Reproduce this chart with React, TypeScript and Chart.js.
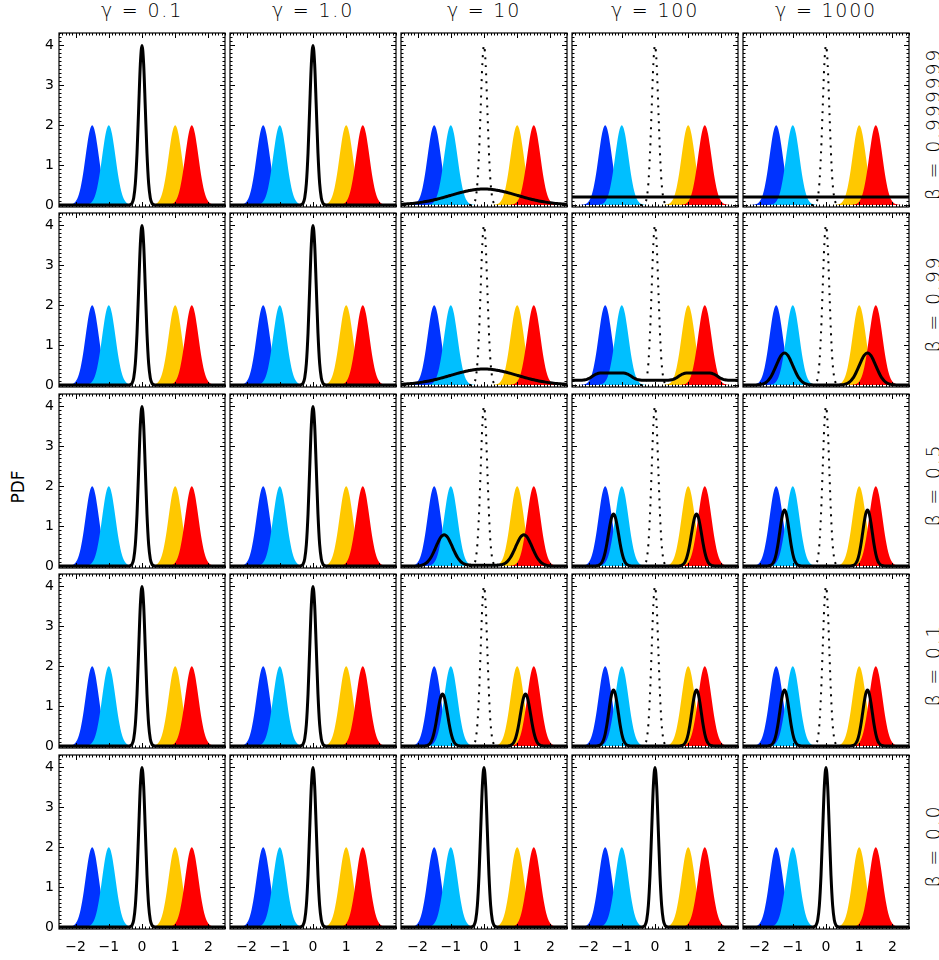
import React, { useEffect, useRef } from 'react';
import { Chart, registerables } from 'chart.js';

Chart.register(...registerables);

// ---------------- data ----------------
const GAMMA_LABELS = ['γ = 0.1', 'γ = 1.0', 'γ = 10', 'γ = 100', 'γ = 1000'];
const BETA_LABELS = ['β = 0.999999', 'β = 0.99', 'β = 0.5', 'β = 0.1', 'β = 0.0'];
const X_TICKS = [-2, -1, 0, 1, 2];
const Y_TICKS = [0, 1, 2, 3, 4];

// sample grid (x values of the PDF samples)
const XS = [
  -2.5, -2.45, -2.4, -2.35, -2.3, -2.25, -2.2, -2.15, -2.1, -2.05,
  -2, -1.95, -1.9, -1.85, -1.8, -1.75, -1.7, -1.65, -1.6, -1.55,
  -1.5, -1.45, -1.4, -1.35, -1.3, -1.25, -1.2, -1.15, -1.1, -1.05,
  -1, -0.95, -0.9, -0.85, -0.8, -0.75, -0.7, -0.65, -0.6, -0.55,
  -0.5, -0.45, -0.4, -0.35, -0.3, -0.25, -0.2, -0.15, -0.1, -0.05,
  0,
  0.05, 0.1, 0.15, 0.2, 0.25, 0.3, 0.35, 0.4, 0.45, 0.5,
  0.55, 0.6, 0.65, 0.7, 0.75, 0.8, 0.85, 0.9, 0.95, 1,
  1.05, 1.1, 1.15, 1.2, 1.25, 1.3, 1.35, 1.4, 1.45, 1.5,
  1.55, 1.6, 1.65, 1.7, 1.75, 1.8, 1.85, 1.9, 1.95, 2,
  2.05, 2.1, 2.15, 2.2, 2.25, 2.3, 2.35, 2.4, 2.45, 2.5,
];

// coloured source PDFs (each on its own support, zero elsewhere)
const BLUE_START = -2.2;
const BLUE_PDF = [0.004, 0.010, 0.022, 0.045, 0.088, 0.159, 0.270, 0.432, 0.648, 0.913, 1.210, 1.506, 1.761, 1.933, 1.995, 1.933, 1.761, 1.506, 1.210, 0.913, 0.648, 0.432, 0.270, 0.159, 0.088, 0.045, 0.022, 0.010, 0.004];
const CYAN_START = -1.7;
const CYAN_PDF = [0.004, 0.010, 0.022, 0.045, 0.088, 0.159, 0.270, 0.432, 0.648, 0.913, 1.210, 1.506, 1.761, 1.933, 1.995, 1.933, 1.761, 1.506, 1.210, 0.913, 0.648, 0.432, 0.270, 0.159, 0.088, 0.045, 0.022, 0.010, 0.004];
const YELLOW_START = 0.3;
const YELLOW_PDF = [0.004, 0.010, 0.022, 0.045, 0.088, 0.159, 0.270, 0.432, 0.648, 0.913, 1.210, 1.506, 1.761, 1.933, 1.995, 1.933, 1.761, 1.506, 1.210, 0.913, 0.648, 0.432, 0.270, 0.159, 0.088, 0.045, 0.022, 0.010, 0.004];
const RED_START = 0.8;
const RED_PDF = [0.004, 0.010, 0.022, 0.045, 0.088, 0.159, 0.270, 0.432, 0.648, 0.913, 1.210, 1.506, 1.761, 1.933, 1.995, 1.933, 1.761, 1.506, 1.210, 0.913, 0.648, 0.432, 0.270, 0.159, 0.088, 0.045, 0.022, 0.010, 0.004];

// narrow central PDF (solid / dotted)
const CENTER_START = -0.4;
const CENTER_PDF = [0.001, 0.009, 0.044, 0.175, 0.540, 1.295, 2.420, 3.521, 3.989, 3.521, 2.420, 1.295, 0.540, 0.175, 0.044, 0.009, 0.001];

// broad posterior (full grid)
const BROAD_POST = [
  0.0175, 0.0198, 0.0224, 0.0252, 0.0283, 0.0317, 0.0355, 0.0396, 0.0440, 0.0488,
  0.0540, 0.0596, 0.0656, 0.0721, 0.0790, 0.0863, 0.0940, 0.1023, 0.1109, 0.1200,
  0.1295, 0.1394, 0.1497, 0.1604, 0.1714, 0.1826, 0.1942, 0.2059, 0.2179, 0.2299,
  0.2420, 0.2541, 0.2661, 0.2780, 0.2897, 0.3011, 0.3123, 0.3230, 0.3332, 0.3429,
  0.3521, 0.3605, 0.3683, 0.3752, 0.3814, 0.3867, 0.3910, 0.3945, 0.3970, 0.3984,
  0.3989,
  0.3984, 0.3970, 0.3945, 0.3910, 0.3867, 0.3814, 0.3752, 0.3683, 0.3605, 0.3521,
  0.3429, 0.3332, 0.3230, 0.3123, 0.3011, 0.2897, 0.2780, 0.2661, 0.2541, 0.2420,
  0.2299, 0.2179, 0.2059, 0.1942, 0.1826, 0.1714, 0.1604, 0.1497, 0.1394, 0.1295,
  0.1200, 0.1109, 0.1023, 0.0940, 0.0863, 0.0790, 0.0721, 0.0656, 0.0596, 0.0540,
  0.0488, 0.0440, 0.0396, 0.0355, 0.0317, 0.0283, 0.0252, 0.0224, 0.0198, 0.0175,
];

// flat posterior
const FLAT_X = [-2.5, 2.5];
const FLAT_POST = [0.2, 0.2];

// uniform floor + two low bumps (full grid)
const MIX_POST = [
  0.120, 0.120, 0.120, 0.120, 0.120, 0.120, 0.121, 0.124, 0.130, 0.140,
  0.158, 0.182, 0.210, 0.238, 0.262, 0.280, 0.292, 0.298, 0.300, 0.300,
  0.300, 0.300, 0.300, 0.300, 0.300, 0.300, 0.300, 0.300, 0.300, 0.300,
  0.300, 0.298, 0.292, 0.280, 0.262, 0.238, 0.210, 0.182, 0.158, 0.140,
  0.130, 0.124, 0.121, 0.120, 0.120, 0.120, 0.120, 0.120, 0.120, 0.120,
  0.120,
  0.120, 0.120, 0.120, 0.120, 0.120, 0.120, 0.120, 0.121, 0.124, 0.130,
  0.140, 0.158, 0.182, 0.210, 0.238, 0.262, 0.280, 0.292, 0.298, 0.300,
  0.300, 0.300, 0.300, 0.300, 0.300, 0.300, 0.300, 0.300, 0.300, 0.300,
  0.300, 0.300, 0.298, 0.292, 0.280, 0.262, 0.238, 0.210, 0.182, 0.158,
  0.140, 0.130, 0.124, 0.121, 0.120, 0.120, 0.120, 0.120, 0.120, 0.120,
];

// wide bimodal posterior with a small floor, from x = -2.0 to 2.0
const SKEW_START = -2.0;
const SKEW_POST = [
  0.004, 0.008, 0.015, 0.026, 0.043, 0.068, 0.104, 0.153, 0.215, 0.291,
  0.378, 0.472, 0.565, 0.651, 0.720, 0.764, 0.780, 0.764, 0.720, 0.651,
  0.565, 0.472, 0.380, 0.293, 0.218, 0.157, 0.108, 0.075, 0.052, 0.038,
  0.030, 0.025, 0.022,
  0.020, 0.020, 0.020, 0.020, 0.020, 0.020, 0.020, 0.020, 0.020, 0.020,
  0.020, 0.020, 0.020, 0.020, 0.020,
  0.022, 0.025, 0.030, 0.038, 0.052, 0.075, 0.108, 0.157, 0.218, 0.293,
  0.380, 0.472, 0.565, 0.651, 0.720, 0.764, 0.780, 0.764, 0.720, 0.651,
  0.565, 0.472, 0.378, 0.291, 0.215, 0.153, 0.104, 0.068, 0.043, 0.026,
  0.015, 0.008, 0.004,
];

// bumps of the bimodal posteriors
const BUMP080_STARTS = [-2.15, 0.35];
const BUMP_080 = [0.001, 0.003, 0.005, 0.009, 0.016, 0.027, 0.044, 0.070, 0.107, 0.157, 0.221, 0.299, 0.388, 0.484, 0.580, 0.668, 0.738, 0.784, 0.800, 0.784, 0.738, 0.668, 0.580, 0.484, 0.388, 0.299, 0.221, 0.157, 0.107, 0.070, 0.044, 0.027, 0.016, 0.009, 0.005, 0.003, 0.001];
const BUMP130_STARTS = [-1.8, 0.7];
const BUMP_130 = [0.002, 0.006, 0.018, 0.043, 0.096, 0.192, 0.345, 0.556, 0.806, 1.051, 1.233, 1.300, 1.233, 1.051, 0.806, 0.556, 0.345, 0.192, 0.096, 0.043, 0.018, 0.006, 0.002];
const BUMP140_STARTS = [-1.75, 0.75];
const BUMP_140 = [0.003, 0.010, 0.027, 0.068, 0.152, 0.300, 0.523, 0.804, 1.094, 1.316, 1.400, 1.316, 1.094, 0.804, 0.523, 0.300, 0.152, 0.068, 0.027, 0.010, 0.003];

// which posterior each panel shows [row][col]
const POSTERIOR = [
  ['center', 'center', 'broad', 'flat', 'flat'],
  ['center', 'center', 'broad', 'mix', 'bi080'],
  ['center', 'center', 'skew', 'bi130', 'bi140'],
  ['center', 'center', 'bi130', 'bi140', 'bi140'],
  ['center', 'center', 'center', 'center', 'center'],
];

// ---------------- styling / layout ----------------
const FONT = "'DejaVu Sans', sans-serif";
const BLUE = '#0033ff';
const CYAN = '#00bfff';
const YELLOW = '#ffc800';
const RED = '#ff0000';
const X_MIN = -2.5, X_MAX = 2.5, Y_MIN = -0.05, Y_MAX = 4.3;
const COL_X = [59, 230, 401, 572, 743];
const ROW_Y = [33, 213, 394, 574, 755];
const PANEL_W = 166;
const PANEL_H = 174;
const PAD = 3;
const Y_AXIS_W = 42;
const X_AXIS_H = 30;
const MAJOR_LEN = 5;
const MINOR_LEN = 2.5;

type Pt = { x: number; y: number };

function onGrid(segments: [number, number[]][]): number[] {
  const out = XS.map(() => 0);
  for (const [start, vals] of segments) {
    const i0 = Math.round((start - XS[0]) / 0.05);
    vals.forEach((v, k) => {
      out[i0 + k] = v;
    });
  }
  return out;
}

function toPoints(xs: number[], ys: number[]): Pt[] {
  return xs.map((x, i) => ({ x, y: ys[i] }));
}

const CURVES: Record<string, Pt[]> = {
  blue: toPoints(XS, onGrid([[BLUE_START, BLUE_PDF]])),
  cyan: toPoints(XS, onGrid([[CYAN_START, CYAN_PDF]])),
  yellow: toPoints(XS, onGrid([[YELLOW_START, YELLOW_PDF]])),
  red: toPoints(XS, onGrid([[RED_START, RED_PDF]])),
  center: toPoints(XS, onGrid([[CENTER_START, CENTER_PDF]])),
  broad: toPoints(XS, BROAD_POST),
  flat: toPoints(FLAT_X, FLAT_POST),
  mix: toPoints(XS, MIX_POST),
  skew: toPoints(XS, onGrid([[SKEW_START, SKEW_POST]])),
  bi080: toPoints(XS, onGrid(BUMP080_STARTS.map((s) => [s, BUMP_080] as [number, number[]]))),
  bi130: toPoints(XS, onGrid(BUMP130_STARTS.map((s) => [s, BUMP_130] as [number, number[]]))),
  bi140: toPoints(XS, onGrid(BUMP140_STARTS.map((s) => [s, BUMP_140] as [number, number[]]))),
};
const DOTTED_CENTER = CURVES.center.filter((p) => Math.abs(p.x) <= 0.45);

const frameTicks = {
  id: 'frameTicks',
  afterDatasetsDraw(chart: any) {
    const { ctx, chartArea: a, scales } = chart;
    const xs = scales.x;
    const ys = scales.y;
    ctx.save();
    ctx.strokeStyle = '#000';
    ctx.lineWidth = 1;
    ctx.beginPath();
    for (let i = -25; i <= 25; i++) {
      const px = Math.round(xs.getPixelForValue(i / 10)) + 0.5;
      const len = i % 10 === 0 ? MAJOR_LEN : MINOR_LEN;
      ctx.moveTo(px, a.bottom);
      ctx.lineTo(px, a.bottom - len);
      ctx.moveTo(px, a.top);
      ctx.lineTo(px, a.top + len);
    }
    for (let i = 0; i <= 43; i++) {
      const py = Math.round(ys.getPixelForValue(i / 10)) + 0.5;
      const len = i % 10 === 0 ? MAJOR_LEN : MINOR_LEN;
      ctx.moveTo(a.left, py);
      ctx.lineTo(a.left + len, py);
      ctx.moveTo(a.right, py);
      ctx.lineTo(a.right - len, py);
    }
    ctx.stroke();
    ctx.lineWidth = 1.2;
    ctx.strokeRect(a.left, a.top, a.right - a.left, a.bottom - a.top);
    ctx.restore();
  },
};

function fmt(v: number): string {
  return v < 0 ? '\u2212' + Math.abs(v) : String(v);
}

function fillSet(data: Pt[], color: string, order: number) {
  return {
    data,
    borderWidth: 0,
    borderColor: color,
    backgroundColor: color,
    fill: 'origin',
    pointRadius: 0,
    cubicInterpolationMode: 'monotone',
    order,
  };
}

function Panel({ row, col }: { row: number; col: number }) {
  const ref = useRef<HTMLCanvasElement>(null);
  const axisW = col === 0 ? Y_AXIS_W : 0;
  const axisH = row === 4 ? X_AXIS_H : 0;
  const cw = PANEL_W + 2 * PAD + axisW;
  const ch = PANEL_H + 2 * PAD + axisH;

  useEffect(() => {
    if (!ref.current) return;
    const post = POSTERIOR[row][col];
    const datasets: any[] = [
      fillSet(CURVES.blue, BLUE, 6),
      fillSet(CURVES.cyan, CYAN, 5),
      fillSet(CURVES.yellow, YELLOW, 4),
      fillSet(CURVES.red, RED, 3),
    ];
    if (post !== 'center') {
      datasets.push({
        data: DOTTED_CENTER,
        borderColor: '#000',
        borderWidth: 2,
        borderDash: [2, 6],
        fill: false,
        pointRadius: 0,
        cubicInterpolationMode: 'monotone',
        order: 2,
      });
    }
    datasets.push({
      data: CURVES[post],
      borderColor: '#000',
      borderWidth: 3,
      fill: false,
      pointRadius: 0,
      cubicInterpolationMode: 'monotone',
      order: 1,
    });

    const chart = new Chart(ref.current, {
      type: 'line',
      data: { datasets },
      options: {
        responsive: false,
        animation: false,
        devicePixelRatio: 1,
        events: [],
        layout: { padding: PAD },
        plugins: { legend: { display: false }, tooltip: { enabled: false } },
        scales: {
          x: {
            type: 'linear',
            min: X_MIN,
            max: X_MAX,
            display: row === 4,
            grid: { display: false, drawTicks: false },
            border: { display: false },
            afterBuildTicks: (s: any) => {
              s.ticks = X_TICKS.map((v) => ({ value: v }));
            },
            afterFit: row === 4
              ? (s: any) => {
                  s.height = X_AXIS_H;
                  s.paddingLeft = 0;
                  s.paddingRight = 0;
                }
              : undefined,
            ticks: {
              padding: 10,
              color: '#000',
              maxRotation: 0,
              autoSkip: false,
              font: { family: FONT, size: 14 },
              callback: (v: any) => fmt(Number(v)),
            },
          },
          y: {
            type: 'linear',
            min: Y_MIN,
            max: Y_MAX,
            display: col === 0,
            grid: { display: false, drawTicks: false },
            border: { display: false },
            afterBuildTicks: (s: any) => {
              s.ticks = Y_TICKS.map((v) => ({ value: v }));
            },
            afterFit: col === 0
              ? (s: any) => {
                  s.width = Y_AXIS_W;
                  s.paddingTop = 0;
                  s.paddingBottom = 0;
                }
              : undefined,
            ticks: {
              padding: 5,
              color: '#000',
              autoSkip: false,
              font: { family: FONT, size: 14 },
              callback: (v: any) => fmt(Number(v)),
            },
          },
        },
      } as any,
      plugins: [frameTicks],
    } as any);
    return () => chart.destroy();
  }, [row, col]);

  return (
    <canvas
      ref={ref}
      width={cw}
      height={ch}
      style={{
        position: 'absolute',
        left: COL_X[col] - PAD - axisW,
        top: ROW_Y[row] - PAD,
        width: cw,
        height: ch,
      }}
    />
  );
}

export default function App() {
  const panels: React.ReactNode[] = [];
  for (let r = 0; r < 5; r++) {
    for (let c = 0; c < 5; c++) {
      panels.push(<Panel key={`${r}-${c}`} row={r} col={c} />);
    }
  }
  return (
    <div
      style={{
        position: 'absolute',
        left: 0,
        top: 0,
        width: 939,
        height: 960,
        background: '#fff',
        overflow: 'hidden',
        fontFamily: FONT,
        color: '#000',
      }}
    >
      {GAMMA_LABELS.map((t, c) => (
        <div
          key={t}
          style={{
            position: 'absolute',
            left: COL_X[c],
            top: 1,
            width: PANEL_W,
            textAlign: 'center',
            fontSize: 19,
            fontWeight: 200,
            lineHeight: '19px',
            letterSpacing: '1.8px',
            whiteSpace: 'pre',
          }}
        >
          {t}
        </div>
      ))}
      {BETA_LABELS.map((t, r) => (
        <div
          key={t}
          style={{
            position: 'absolute',
            left: 933,
            top: ROW_Y[r] + PANEL_H / 2 + 4,
            transform: 'translate(-50%, -50%) rotate(-90deg)',
            fontSize: 19,
            fontWeight: 200,
            lineHeight: '19px',
            letterSpacing: '1.8px',
            whiteSpace: 'pre',
          }}
        >
          {t}
        </div>
      ))}
      <div
        style={{
          position: 'absolute',
          left: 18,
          top: 487,
          transform: 'translate(-50%, -50%) rotate(-90deg)',
          fontSize: 17,
          lineHeight: '17px',
          whiteSpace: 'pre',
        }}
      >
        PDF
      </div>
      {panels}
    </div>
  );
}
